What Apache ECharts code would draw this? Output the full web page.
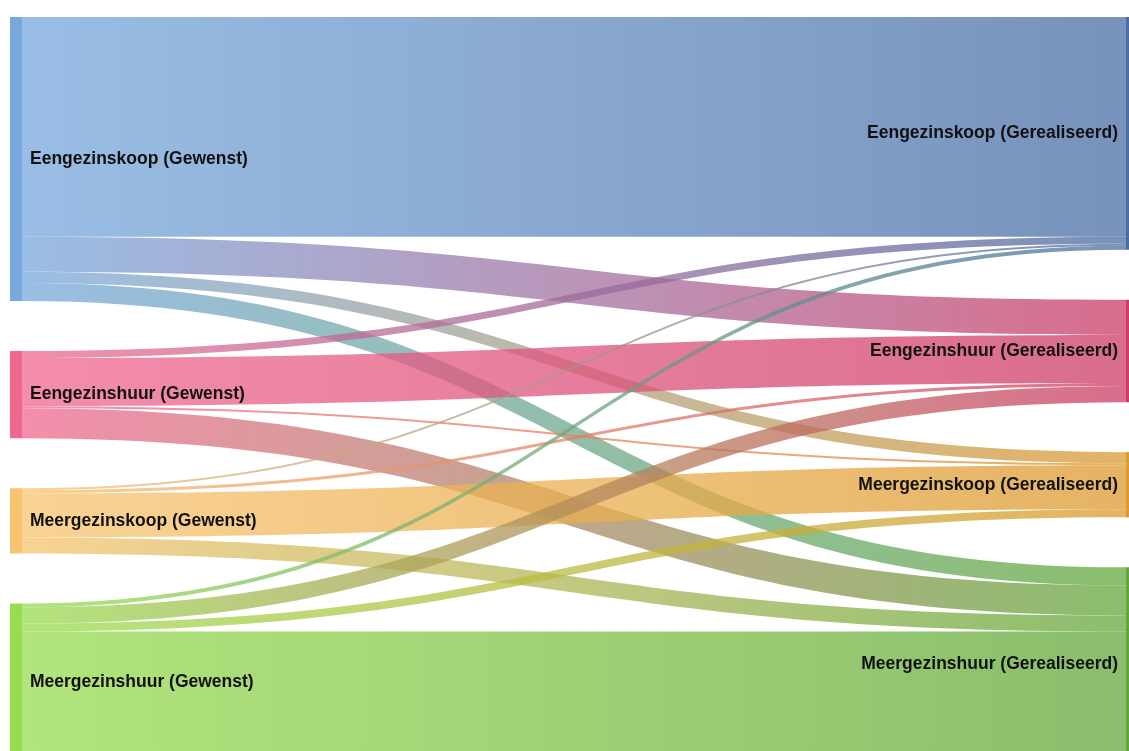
<!DOCTYPE html>
<html>
<head>
<meta charset="utf-8">
<script src="https://cdn.jsdelivr.net/npm/echarts@6/dist/echarts.min.js"></script>
<style>html,body{margin:0;padding:0;background:#fff;}#c{width:1129px;height:751px;}</style>
</head>
<body>
<div id="c"></div>
<script>
const sourceNodes = ['Eengezinskoop (Gewenst)', 'Eengezinshuur (Gewenst)', 'Meergezinskoop (Gewenst)', 'Meergezinshuur (Gewenst)'];
const targetNodes = ['Eengezinskoop (Gerealiseerd)', 'Eengezinshuur (Gerealiseerd)', 'Meergezinskoop (Gerealiseerd)', 'Meergezinshuur (Gerealiseerd)'];
// flows: row = source (Gewenst), column = target (Gerealiseerd)
const flowEengezinskoop = [219, 35, 11, 18];
const flowEengezinshuur = [7, 48, 2, 30];
const flowMeergezinskoop = [2, 3, 44, 16];
const flowMeergezinshuur = [4, 16, 8, 129];
const flows = [flowEengezinskoop, flowEengezinshuur, flowMeergezinskoop, flowMeergezinshuur];

const sourceColors = ['#78a8dc', '#f06890', '#f8c470', '#98dc50'];
const targetColors = ['#4a6ea4', '#cc3c66', '#dc9a30', '#64a83c'];

const nodes = [];
sourceNodes.forEach((n, i) => nodes.push({
  name: n, itemStyle: { color: sourceColors[i] },
  label: { position: 'right', distance: 8 }
}));
targetNodes.forEach((n, i) => nodes.push({
  name: n, itemStyle: { color: targetColors[i] },
  label: { position: 'left', distance: 8 }
}));
const links = [];
flows.forEach((row, i) => row.forEach((v, j) => {
  links.push({ source: sourceNodes[i], target: targetNodes[j], value: v });
}));

const chart = echarts.init(document.getElementById('c'), null, { renderer: 'canvas' });
chart.setOption({
  animation: false,
  backgroundColor: '#fff',
  series: [{
    type: 'sankey',
    left: 10, top: 17, right: -9, bottom: -10,
    nodeWidth: 12,
    nodeGap: 50,
    layoutIterations: 0,
    draggable: false,
    emphasis: { disabled: true },
    data: nodes,
    links: links,
    itemStyle: { borderWidth: 0 },
    lineStyle: { color: 'gradient', opacity: 0.75, curveness: 0.5 },
    label: {
      color: '#111',
      fontFamily: '"Liberation Sans", Arial, sans-serif',
      fontWeight: 'bold',
      fontSize: 17.5
    }
  }]
});
</script>
</body>
</html>
